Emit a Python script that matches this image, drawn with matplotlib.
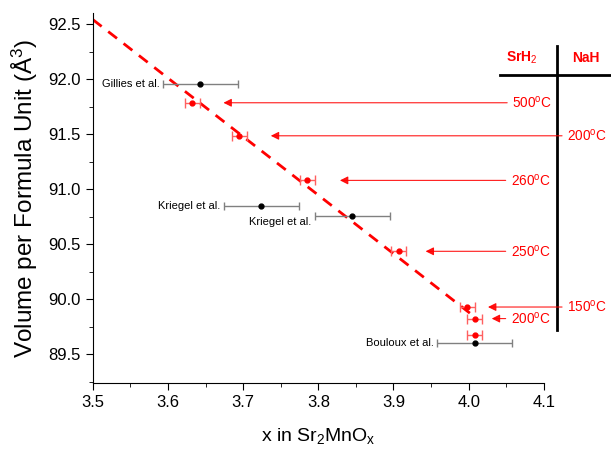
import numpy as np
import matplotlib.pyplot as plt
from matplotlib.ticker import MultipleLocator

plt.rcParams['font.family'] = ['Liberation Sans', 'DejaVu Sans']
plt.rcParams['mathtext.fontset'] = 'custom'
plt.rcParams['mathtext.rm'] = 'Liberation Sans'
plt.rcParams['mathtext.it'] = 'Liberation Sans'
plt.rcParams['mathtext.bf'] = 'Liberation Sans:bold'

# Eigene Messungen (SrH2 / NaH reduziert)
red_x = [3.632, 3.695, 3.785, 3.907, 3.998, 4.008, 4.008]
red_y = [91.785, 91.485, 91.08, 90.436, 89.93, 89.825, 89.68]
red_xerr = [0.01, 0.01, 0.01, 0.01, 0.01, 0.01, 0.01]

# Literaturwerte
lit_x = [3.643, 3.724, 3.845, 4.008]
lit_y = [91.955, 90.85, 90.76, 89.60]
lit_xerr = [0.05, 0.05, 0.05, 0.05]
lit_labels = ['Gillies et al.', 'Kriegel et al.', 'Kriegel et al.', 'Bouloux et al.']

# lineare Anpassung (Endpunkte)
fit_x = [3.5, 4.01]
fit_y = [92.54, 89.83]

# Temperatur-Beschriftungen: Punkt-Index, Pfeilspitze x, Pfeilende x
temp_labels = ['500', '200', '260', '250', '150', '200']
temp_idx = [0, 1, 2, 3, 4, 5]
arrow_tip = [3.67, 3.733, 3.825, 3.939, 4.022, 4.027]
arrow_tail = [4.055, 4.128, 4.053, 4.053, 4.128, 4.053]

fig = plt.figure(figsize=(6.11, 4.49), dpi=100)
ax = fig.add_axes([0.152, 0.147, 0.738, 0.824])

ax.plot(fit_x, fit_y, color='red', ls=(0, (4, 3)), lw=2, zorder=2)

ax.errorbar(lit_x, lit_y, xerr=lit_xerr, fmt='o', color='black', ms=3.5,
            ecolor='gray', elinewidth=1, capsize=3, zorder=3)
ax.errorbar(red_x, red_y, xerr=red_xerr, fmt='o', color='red', ms=3.5,
            ecolor='#ff6060', elinewidth=1, capsize=3.5, zorder=3)

for lx, ly, le, lab in zip(lit_x, lit_y, lit_xerr, lit_labels):
    dy = -0.06 if lab == 'Kriegel et al.' and lx > 3.8 else 0
    ax.text(lx - le - 0.004, ly + dy, lab, fontsize=8, ha='right', va='center')

for lab, i, tip, tail in zip(temp_labels, temp_idx, arrow_tip, arrow_tail):
    y = red_y[i]
    ax.annotate('', xy=(tip, y), xytext=(tail, y), annotation_clip=False,
                arrowprops=dict(arrowstyle='-|>', color='red', lw=0.8,
                                mutation_scale=12, alpha=0.9))
    ax.text(tail + 0.003, y, lab + r'$^{\rm o}$C', color='red', fontsize=9.8,
            ha='left', va='center', clip_on=False)

# Tabellenkopf SrH2 / NaH
ax.plot([4.117, 4.117], [92.30, 89.72], color='black', lw=2, clip_on=False)
ax.plot([4.042, 4.19], [92.036, 92.036], color='black', lw=2, clip_on=False)
ax.text(4.071, 92.19, r'SrH$_2$', color='red', fontsize=10, fontweight='bold',
        ha='center', va='center', clip_on=False)
ax.text(4.156, 92.19, 'NaH', color='red', fontsize=10, fontweight='bold',
        ha='center', va='center', clip_on=False)

ax.set_xlim(3.5, 4.1)
ax.set_ylim(89.24, 92.6)
ax.xaxis.set_major_locator(MultipleLocator(0.1))
ax.xaxis.set_minor_locator(MultipleLocator(0.05))
ax.yaxis.set_major_locator(MultipleLocator(0.5))
ax.yaxis.set_minor_locator(MultipleLocator(0.25))
ax.xaxis.set_major_formatter(plt.FormatStrFormatter('%.1f'))
ax.yaxis.set_major_formatter(plt.FormatStrFormatter('%.1f'))
ax.tick_params(which='both', direction='out', labelsize=12)
ax.tick_params(which='major', length=5)
ax.tick_params(which='minor', length=3)
ax.spines['top'].set_visible(False)
ax.spines['right'].set_visible(False)

ax.set_xlabel(r'x in Sr$_2$MnO$_x$', fontsize=14, labelpad=12)
ax.set_ylabel(r'Volume per Formula Unit (Å$^3$)', fontsize=17.5, labelpad=6)

fig.savefig('out.png', dpi=100)
